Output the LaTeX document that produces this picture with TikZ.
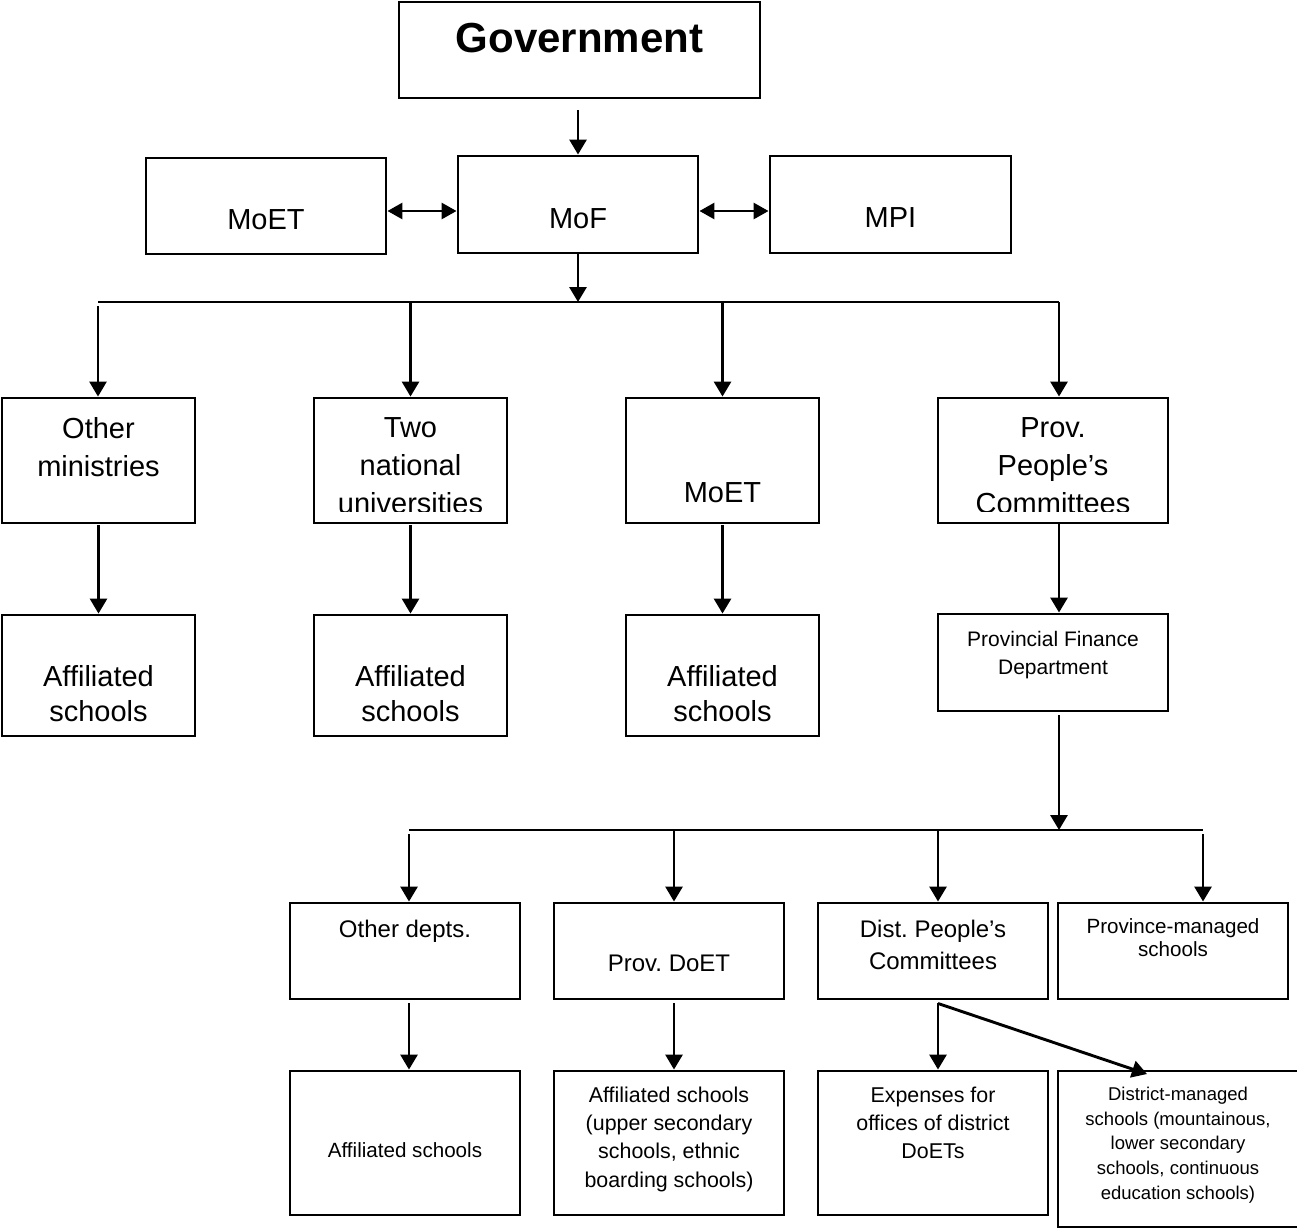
\documentclass[tikz,border=0pt]{standalone}
\usepackage{fontspec}
\setmainfont{Liberation Sans}
\frenchspacing
\usetikzlibrary{arrows.meta}
\begin{document}
\begin{tikzpicture}[x=1pt,y=-1pt,
  box/.style={draw, line width=2.9pt, inner sep=0pt},
  txt/.style={inner sep=0pt, align=center},
  arr/.style={line width=2.9pt, -{Triangle[width=17pt,length=15pt]}},
  darr/.style={line width=2.9pt, {Triangle[width=16pt,length=15pt]}-{Triangle[width=16pt,length=15pt]}},
  busline/.style={line width=1.8pt},
  big/.style={font=\fontsize{29}{38}\selectfont},
  mid/.style={font=\fontsize{24}{32}\selectfont},
  sml/.style={font=\fontsize{21.4}{28.3}\selectfont}
]
\useasboundingbox (0,0) rectangle (1297,1229);

% ---- boxes ----
\node[box, minimum width=361, minimum height=96] (gov) at (579.5,50) {};
\node[box, minimum width=240, minimum height=96] (moetA) at (266,206) {};
\node[box, minimum width=240, minimum height=97] (mof) at (578,204.5) {};
\node[box, minimum width=241, minimum height=97] (mpi) at (890.5,204.5) {};

\node[box, minimum width=193, minimum height=125] (om) at (98.5,460.5) {};
\node[box, minimum width=193, minimum height=125] (tnu) at (410.5,460.5) {};
\node[box, minimum width=193, minimum height=125] (moetB) at (722.5,460.5) {};
\node[box, minimum width=230, minimum height=125] (ppc) at (1053,460.5) {};

\node[box, minimum width=193, minimum height=121] (af1) at (98.5,675.5) {};
\node[box, minimum width=193, minimum height=121] (af2) at (410.5,675.5) {};
\node[box, minimum width=193, minimum height=121] (af3) at (722.5,675.5) {};
\node[box, minimum width=230, minimum height=97] (pfd) at (1053,662.5) {};

\node[box, minimum width=230, minimum height=96] (od) at (405,951) {};
\node[box, minimum width=230, minimum height=96] (pdoet) at (669,951) {};
\node[box, minimum width=230, minimum height=96] (dpc) at (933,951) {};
\node[box, minimum width=230, minimum height=96] (pms) at (1173,951) {};

\node[box, minimum width=230, minimum height=144] (af4) at (405,1143) {};
\node[box, minimum width=230, minimum height=144] (af5) at (669,1143) {};
\node[box, minimum width=230, minimum height=144] (exp) at (933,1143) {};
\node[box, minimum width=242, minimum height=156] (dms) at (1179,1149) {};

% ---- texts ----
\node[txt, anchor=base, font=\fontsize{42}{50}\bfseries\selectfont] (tgov) at (579.5,52) {Government};
\node[txt, anchor=base, big] (tmoetA) at (266,229) {MoET};
\node[txt, anchor=base, big] (tmof) at (578,228) {MoF};
\node[txt, anchor=base, big] (tmpi) at (890.5,227) {MPI};

\node[txt, anchor=north, big] (tom) at (98.5,417) {Other\\ministries};
\begin{scope}
  \clip (300,400) rectangle (520,511);
  \node[txt, anchor=north, big] (ttnu) at (410.5,417) {Two\\national\\universities};
\end{scope}
\node[txt, anchor=base, big] (tmoetB) at (722.5,502) {MoET};
\begin{scope}
  \clip (940,400) rectangle (1166,511);
  \node[txt, anchor=north, big] (tppc) at (1053,417) {Prov.\\People’s\\Committees};
\end{scope}

\node[txt, anchor=north, font=\fontsize{29}{35}\selectfont] (taf1) at (98.5,665) {Affiliated\\schools};
\node[txt, anchor=north, font=\fontsize{29}{35}\selectfont] (taf2) at (410.5,665) {Affiliated\\schools};
\node[txt, anchor=north, font=\fontsize{29}{35}\selectfont] (taf3) at (722.5,665) {Affiliated\\schools};
\node[txt, anchor=north, font=\fontsize{21}{28}\selectfont] (tpfd) at (1053,631) {Provincial Finance\\Department};

\node[txt, anchor=base, mid] (tod) at (405,937) {Other depts.};
\node[txt, anchor=base, mid] (tpdoet) at (669,971) {Prov. DoET};
\node[txt, anchor=north, mid] (tdpc) at (933,920) {Dist. People’s\\Committees};
\node[txt, anchor=north, font=\fontsize{20.6}{23}\selectfont] (tpms) at (1173,918) {Province-managed\\schools};

\node[txt, anchor=base, font=\fontsize{20.6}{26}\selectfont] (taf4) at (405,1157) {Affiliated schools};
\node[txt, anchor=north, sml] (taf5) at (669,1086.5) {Affiliated schools\\(upper secondary\\schools, ethnic\\boarding schools)};
\node[txt, anchor=north, font=\fontsize{21.4}{28}\selectfont] (texp) at (933,1086.5) {Expenses for\\offices of district\\DoETs};
\node[txt, anchor=north, font=\fontsize{18.5}{24.75}\selectfont] (tdms) at (1178,1086.7) {District-managed\\schools (mountainous,\\lower secondary\\schools, continuous\\education schools)};

% ---- connectors ----
\draw[arr] ([yshift=-11pt]gov.south -| mof.north) -- (mof.north);
\draw[darr] (moetA.east |- 0,211) -- (mof.west |- 0,211);
\draw[darr] (mof.east |- 0,211) -- (mpi.west |- 0,211);

\coordinate (busL) at (98,302);
\coordinate (busR) at (1059,302);
\draw[busline] (busL) -- (busR);
\draw[arr] (mof.south) -- (mof.south |- busL);
\draw[arr] ([yshift=-4pt]busL) -- (busL |- om.north);
\draw[arr] (tnu.north |- busL) -- (tnu.north);
\draw[arr] (moetB.north |- busL) -- (moetB.north);
\draw[arr] (busR) -- (busR |- ppc.north);

\draw[arr] ([yshift=-1pt]om.south) -- (af1.north);
\draw[arr] ([yshift=-1pt]tnu.south) -- (af2.north);
\draw[arr] ([yshift=-1pt]moetB.south) -- (af3.north);
\draw[arr] (busR |- ppc.south) -- (busR |- pfd.north);

\coordinate (bus2L) at (409,830);
\coordinate (bus2R) at (1203,830);
\coordinate (d2) at (674,830);
\coordinate (d3) at (938,830);
\draw[busline] (bus2L) -- (bus2R);
\draw[arr] ([yshift=-3pt]busR |- pfd.south) -- (busR |- bus2L);
\draw[arr] ([yshift=-4pt]bus2L) -- (bus2L |- od.north);
\draw[arr] (d2) -- (d2 |- pdoet.north);
\draw[arr] (d3) -- (d3 |- dpc.north);
\draw[arr] ([yshift=-4pt]bus2R) -- (bus2R |- pms.north);

\draw[arr] ([yshift=-3pt]bus2L |- od.south) -- (bus2L |- af4.north);
\draw[arr] ([yshift=-3pt]d2 |- pdoet.south) -- (d2 |- af5.north);
\draw[arr] ([yshift=-3pt]d3 |- dpc.south) -- (d3 |- exp.north);
\coordinate (dtip) at (1147,1074);
\draw[arr] ([yshift=-3pt]d3 |- dpc.south) -- (dtip);
\end{tikzpicture}
\end{document}
